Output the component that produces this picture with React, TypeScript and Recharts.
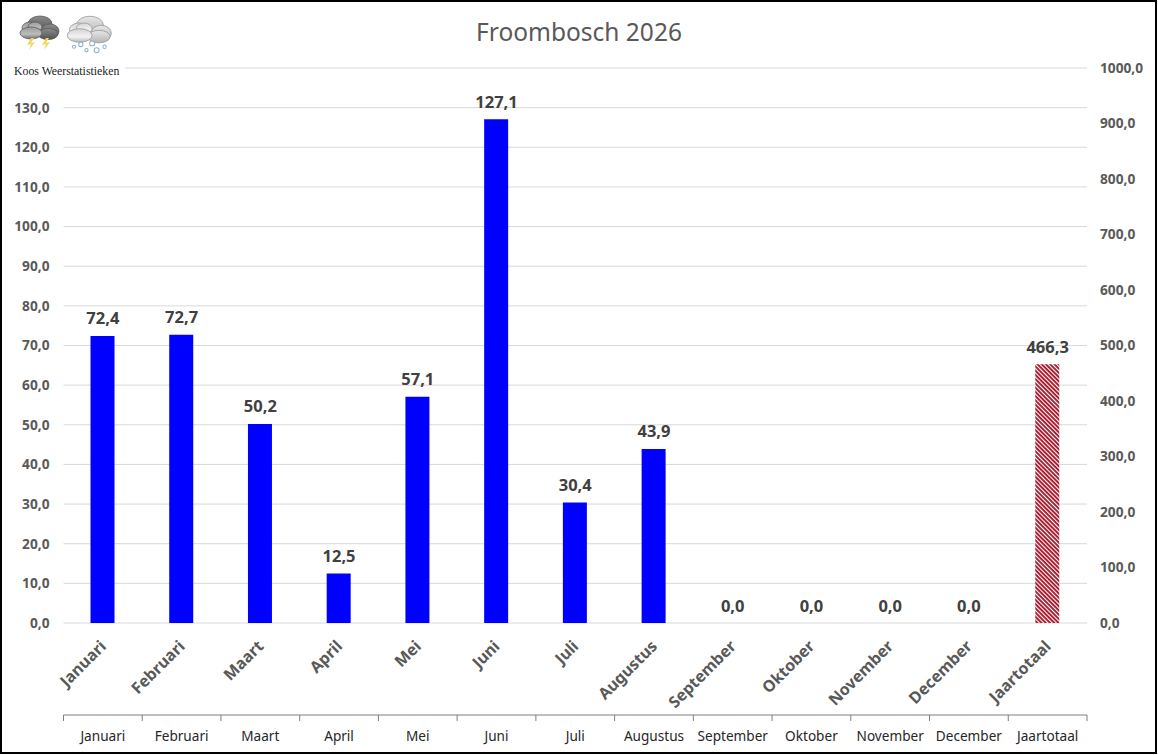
import React from "react";
import { ComposedChart, Bar, Line, XAxis, YAxis, CartesianGrid, LabelList } from "recharts";

const categories = ["Januari","Februari","Maart","April","Mei","Juni","Juli","Augustus","September","Oktober","November","December","Jaartotaal"];
const monthly: (number|null)[] = [72.4,72.7,50.2,12.5,57.1,127.1,30.4,43.9,0,0,0,0,null];
const yearly: (number|null)[] = [null,null,null,null,null,null,null,null,null,null,null,null,466.3];
const leftTicks = [0,10,20,30,40,50,60,70,80,90,100,110,120,130,140];
const rightTicks = [0,100,200,300,400,500,600,700,800,900,1000];

const rows = categories.map((name,i)=>({name,monthly:monthly[i],yearly:yearly[i]}));
const fmt = (v:any)=> Number(v).toFixed(1).replace(".",",");
const FONT = "'Noto Sans', sans-serif";

const RotTick = (p:any)=>(
  <text x={p.x} y={p.y+12} transform={`rotate(-45 ${p.x} ${p.y+12})`} textAnchor="end" dominantBaseline="central"
    fontFamily={FONT} fontSize={16} fontWeight={700} fill="#595959">{p.payload.value}</text>
);
const BottomTick = (p:any)=>{
  const step = 1023.5/13;
  return <g>
    <line x1={p.x-step/2} x2={p.x-step/2} y1={p.y-8} y2={p.y-2} stroke="#7f7f7f"/>
    {p.index===categories.length-1 && <line x1={p.x+step/2} x2={p.x+step/2} y1={p.y-8} y2={p.y-2} stroke="#7f7f7f"/>}
    <text x={p.x} y={p.y+12} textAnchor="middle" dominantBaseline="central" fontFamily={FONT} fontSize={13.6} fill="#262626">{p.payload.value}</text>
  </g>;
};
const ValueLabel = (p:any)=>{
  if(p.value===null||p.value===undefined) return null;
  return <text x={p.x} y={p.y-18} textAnchor="middle" dominantBaseline="central" fontFamily={FONT} fontSize={16.5} fontWeight={700} fill="#404040">{fmt(p.value)}</text>;
};
const tickStyle = {fontFamily:FONT,fontSize:13.7,fontWeight:700,fill:"#595959"};

const Cloud = ({dark}:{dark:boolean})=>{
  const back = dark?"url(#cloudDarkBack)":"url(#cloudLightBack)";
  const front = dark?"url(#cloudDarkFront)":"url(#cloudLightFront)";
  const s = dark?"#5a5a5a":"#a0a0a0";
  return <g stroke={s} strokeWidth={0.8}>
    <ellipse cx={22} cy={10} rx={12} ry={8} fill={back}/>
    <ellipse cx={32} cy={17} rx={9} ry={7} fill={back}/>
    <ellipse cx={30} cy={20} rx={10} ry={5.5} fill={back}/>
    <ellipse cx={12} cy={14} rx={8} ry={6} fill={front}/>
    <ellipse cx={17} cy={13} rx={7} ry={5} fill={front}/>
    <ellipse cx={13} cy={19} rx={11} ry={6} fill={front}/>
  </g>;
};

export default function App(){
  return <div style={{position:"absolute",left:0,top:0,width:1158,height:755,background:"#fff"}}>
    <ComposedChart width={1158} height={755} data={rows} margin={{top:68,right:0,bottom:0,left:0}} barCategoryGap={0}>
      <defs>
        <pattern id="hatch" width="3" height="3" patternUnits="userSpaceOnUse" patternTransform="rotate(45)">
          <rect width="3" height="3" fill="#fff"/>
          <rect width="3" height="1.9" fill="#a5172a"/>
        </pattern>
      </defs>
      <CartesianGrid horizontal vertical={false} stroke="#d9d9d9" yAxisId="left" xAxisId="a_rot"/>
      <XAxis xAxisId="a_rot" dataKey="name" orientation="bottom" height={92} axisLine={false} tickLine={false} interval={0} tick={RotTick}/>
      <XAxis xAxisId="z_bottom" dataKey="name" orientation="bottom" height={40} axisLine={{stroke:"#7f7f7f"}} tickLine={false} interval={0} tick={BottomTick}/>
      <YAxis yAxisId="left" orientation="left" width={63.5} domain={[0,140]} ticks={leftTicks} interval={0} axisLine={false} tickLine={false}
        tick={tickStyle} tickMargin={8} tickFormatter={(v:number)=>v===140?"":fmt(v)}/>
      <YAxis yAxisId="right" orientation="right" width={71} domain={[0,1000]} ticks={rightTicks} interval={0} axisLine={false} tickLine={false}
        tick={tickStyle} tickMargin={7} tickFormatter={fmt}/>
      <Bar xAxisId="a_rot" yAxisId="left" dataKey="monthly" fill="#0000ff" barSize={24} isAnimationActive={false}/>
      <Bar xAxisId="z_bottom" yAxisId="right" dataKey="yearly" fill="url(#hatch)" barSize={24} isAnimationActive={false}/>
      <Line xAxisId="a_rot" yAxisId="left" dataKey="monthly" stroke="none" dot={false} activeDot={false} legendType="none" isAnimationActive={false}>
        <LabelList dataKey="monthly" content={ValueLabel}/>
      </Line>
      <Line xAxisId="z_bottom" yAxisId="right" dataKey="yearly" stroke="none" dot={false} activeDot={false} legendType="none" isAnimationActive={false}>
        <LabelList dataKey="yearly" content={ValueLabel}/>
      </Line>
    </ComposedChart>
    <div style={{position:"absolute",left:0,top:0,width:1156.5,height:754,boxSizing:"border-box",border:"2.5px solid #000",pointerEvents:"none"}}/>
    <div style={{position:"absolute",left:0,right:0,top:14,textAlign:"center",fontFamily:FONT,fontSize:24.5,lineHeight:"36px",color:"#595959"}}>Froombosch 2026</div>
    <div style={{position:"absolute",left:14,top:64,width:111,height:15,background:"#fff",fontFamily:"'Liberation Serif', serif",fontSize:11.8,lineHeight:"15px",color:"#222",whiteSpace:"nowrap"}}>Koos Weerstatistieken</div>
    <svg style={{position:"absolute",left:0,top:0}} width={125} height={60}>
      <defs>
        <linearGradient id="cloudDarkBack" x1="0" y1="0" x2="0" y2="1"><stop offset="0" stopColor="#8c8c8c"/><stop offset="1" stopColor="#505050"/></linearGradient>
        <linearGradient id="cloudDarkFront" x1="0" y1="0" x2="0" y2="1"><stop offset="0" stopColor="#9a9a9a"/><stop offset="0.6" stopColor="#bdbdbd"/><stop offset="1" stopColor="#6a6a6a"/></linearGradient>
        <linearGradient id="cloudLightBack" x1="0" y1="0" x2="0" y2="1"><stop offset="0" stopColor="#e8e8e8"/><stop offset="1" stopColor="#b4b4b4"/></linearGradient>
        <linearGradient id="cloudLightFront" x1="0" y1="0" x2="0" y2="1"><stop offset="0" stopColor="#d4d4d4"/><stop offset="0.6" stopColor="#f2f2f2"/><stop offset="1" stopColor="#b8b8b8"/></linearGradient>
      </defs>
      <g transform="translate(18,14)"><Cloud dark={true}/>
        <path d="M13 24 L9 31 L13 30 L11 36 L17 28 L13 29 L16 24Z" fill="#efd85a"/>
        <path d="M28 24 L24 31 L28 30 L26 36 L32 28 L28 29 L31 24Z" fill="#efd85a"/>
      </g>
      <g transform="translate(65,14) scale(1.13)"><Cloud dark={false}/>
        <g fill="#fff" stroke="#8fb0cf" strokeWidth={0.9}>
          <circle cx={8} cy={29} r={1.4}/><circle cx={14} cy={27} r={1.9}/><circle cx={19} cy={32} r={1.4}/>
          <circle cx={24} cy={26} r={2.2}/><circle cx={28} cy={32} r={2.2}/><circle cx={35} cy={29} r={1.5}/>
        </g>
      </g>
    </svg>
  </div>;
}
